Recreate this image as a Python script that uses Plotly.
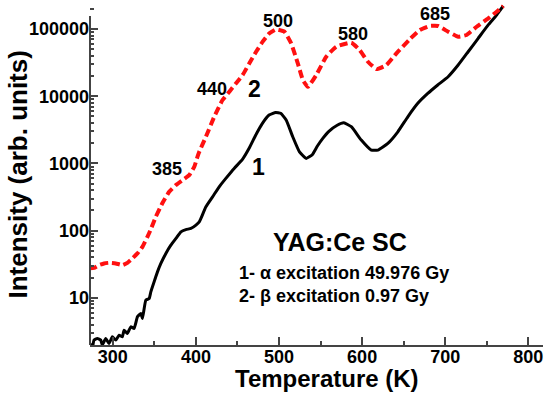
import plotly.graph_objects as go

# Curve 1 (alpha excitation) - temperature (K) and intensity
t1 = [273.3, 275.3, 277.3, 281.3, 285.4, 287.3, 291.4, 295.4, 299.4, 303.5, 307.5, 311.5,
      313.5, 317.5, 321.6, 325.6, 329.6, 333.7, 335.6, 339.7, 343.7, 345.7, 349.7, 353.7,
      357.8, 363.8, 369.8, 375.9, 381.9, 387.9, 394, 400, 404, 406, 412, 420, 428, 436,
      446, 456, 464, 472, 480, 488, 496, 502, 508.6, 516.5, 524.6, 532.7, 540, 546,
      552, 560, 570, 578, 587, 599, 611, 619, 631, 643, 655, 667, 679, 691, 703.5,
      715.6, 727.6, 739.7, 751.8, 761.9, 769.9]
i1 = [2.1, 1.8, 2.36, 2.5, 2.36, 2.0, 2.5, 2.1, 2.64, 2.36, 2.79, 2.64,
      3.32, 2.96, 3.72, 3.52, 5.23, 5.88, 4.95, 9.27, 9.8, 12.3, 17.4, 24.4,
      32.6, 45.9, 61, 76.8, 96.3, 104, 108, 121, 135, 152, 227, 319, 450, 600,
      845, 1150, 1680, 2650, 3950, 5250, 5750, 5570, 4430, 2500, 1490, 1190, 1350, 1800,
      2300, 3000, 3700, 4030, 3520, 2230, 1580, 1580, 1990, 2960, 4950, 7840, 11000, 14700, 19500,
      29100, 45900, 72700, 115000, 161000, 220000]

# Curve 2 (beta excitation)
t2 = [271.3, 277.3, 283.3, 289.4, 295.4, 303.5, 311.5, 317.5, 323.5, 329.6, 335.6, 341.6,
      345, 351.7, 359.7, 367.8, 375.9, 383.8, 391.9, 398, 401.9, 404, 412, 422, 432,
      440.2, 448.3, 456.2, 464.3, 472.4, 480.3, 488.4, 496.5, 506.5, 514.6, 522.6, 528.7,
      534.7, 544.8, 556.8, 568.9, 587, 597, 607, 617.2, 629.2, 641.3, 657.3, 669.4,
      681.4, 691.4, 703.5, 715.6, 725.7, 737.8, 751.8, 761.9, 769.9]
i2 = [27.5, 28, 30.8, 32.6, 33.3, 32.6, 30.8, 33.3, 38.7, 45.9, 57.5, 81,
      100, 161, 258, 380, 477, 566, 671, 893, 1260, 1490, 2500, 4950, 8780,
      11700, 15600, 20700, 30900, 45900, 64800, 86300, 99000, 91200, 61300, 30900, 17400,
      13800, 20700, 38700, 54500, 62500, 48700, 32600, 25400, 29100, 43500, 70300, 96700,
      111000, 111000, 91200, 76800, 81500, 108000, 144000, 181000, 220000]

x_ticks = [300, 400, 500, 600, 700, 800]
y_ticks = [10, 100, 1000, 10000, 100000]
y_tick_text = ["10", "100", "1000", "10000", "100000"]

peak_labels = ["385", "440", "500", "580", "685"]
peak_x = [365.4, 419, 499.3, 589.2, 688.1]
peak_logy = [2.917, 4.107, 5.119, 4.933, 5.223]

FONT = "Liberation Sans, Arial, sans-serif"

fig = go.Figure()
fig.add_trace(go.Scatter(x=t1, y=i1, mode="lines",
                         line=dict(color="black", width=3, shape="spline", smoothing=0.4)))
fig.add_trace(go.Scatter(x=t2, y=i2, mode="lines",
                         line=dict(color="#ff1010", width=4, dash="8px,4px",
                                   shape="spline", smoothing=0.4)))

minor_y = [m * 10 ** e for e in range(0, 6) for m in range(2, 10)]

fig.update_layout(
    width=550, height=394,
    margin=dict(l=90, r=7, t=4, b=49),
    paper_bgcolor="white", plot_bgcolor="white",
    showlegend=False,
    font=dict(family=FONT, color="black"),
    xaxis=dict(
        range=[272.5, 817.7], tickvals=x_ticks, automargin=False,
        ticks="inside", ticklen=8, tickwidth=1.5, tickcolor="#444",
        ticklabelstandoff=-6,
        minor=dict(ticks="inside", ticklen=4, dtick=50, tick0=0, tickcolor="#444", showgrid=False),
        showline=True, linecolor="#444", linewidth=2,
        showgrid=False, zeroline=False,
        tickfont=dict(size=18, weight="bold", family=FONT),
    ),
    yaxis=dict(
        type="log", range=[0.30, 5.372], automargin=False,
        tickvals=y_ticks, ticktext=y_tick_text,
        ticks="inside", ticklen=8, tickwidth=1.5, tickcolor="#444",
        minor=dict(ticks="inside", ticklen=4, tickvals=minor_y, tickcolor="#444", showgrid=False),
        showline=False, showgrid=False, zeroline=False,
        tickfont=dict(size=18, weight="bold", family=FONT),
    ),
)

# y axis line (stops slightly below the top of the plotting area)
fig.add_shape(type="line", xref="paper", yref="paper", x0=0, x1=0, y0=0, y1=0.965,
              line=dict(color="#444", width=2))

# axis titles
fig.add_annotation(xref="paper", yref="paper", x=0.524, y=-0.097, text="Temperature (K)",
                   showarrow=False, yanchor="middle",
                   font=dict(size=24, weight="bold", family=FONT))
fig.add_annotation(xref="paper", yref="paper", x=-0.161, y=0.5, text="Intensity (arb. units)",
                   showarrow=False, textangle=-90, xanchor="center",
                   font=dict(size=26, weight="bold", family=FONT))

for txt, xx, yy in zip(peak_labels, peak_x, peak_logy):
    fig.add_annotation(x=xx, y=yy, text=txt, showarrow=False,
                       font=dict(size=18, weight="bold", family=FONT))

fig.add_annotation(x=470.3, y=4.107, text="2", showarrow=False,
                   font=dict(size=23, weight="bold", family=FONT))
fig.add_annotation(x=475.2, y=2.946, text="1", showarrow=False,
                   font=dict(size=23, weight="bold", family=FONT))
fig.add_annotation(x=572.9, y=1.83, text="YAG:Ce SC", showarrow=False,
                   font=dict(size=25, weight="bold", family=FONT))
fig.add_annotation(x=449.8, y=1.369, text="1- α excitation 49.976 Gy", showarrow=False,
                   xanchor="left", font=dict(size=18, weight="bold", family=FONT))
fig.add_annotation(x=449.8, y=1.027, text="2- β excitation 0.97 Gy", showarrow=False,
                   xanchor="left", font=dict(size=18, weight="bold", family=FONT))

fig.write_html("out.html", config={"displayModeBar": False},
               post_script="document.body.style.margin='0';")
